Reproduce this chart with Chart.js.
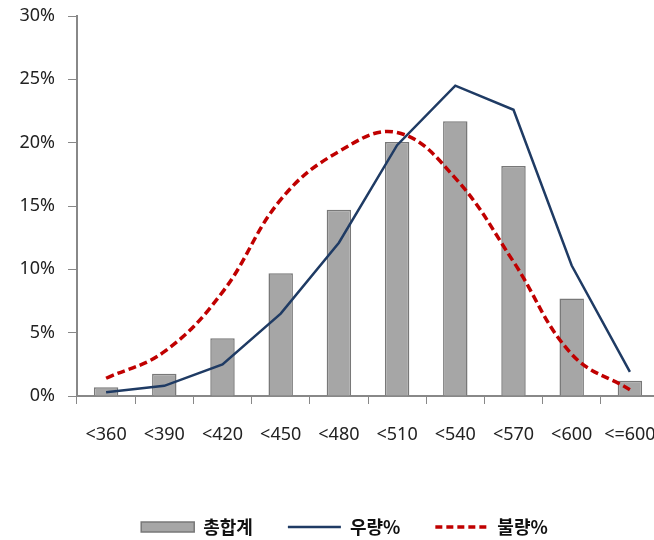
<!DOCTYPE html>
<html><head><meta charset="utf-8">
<script src="https://cdn.jsdelivr.net/npm/chart.js@4"></script>
<style>
html,body{margin:0;padding:0;background:#fff;overflow:hidden;}
#wrap{width:664px;height:540px;}
</style></head>
<body><div id="wrap"><canvas id="c" width="664" height="540"></canvas></div>
<script>
const categories = ['<360','<390','<420','<450','<480','<510','<540','<570','<600','<=600'];
const totalPct = [0.7, 1.75, 4.55, 9.7, 14.7, 20.05, 21.7, 18.15, 7.7, 1.2];
const goodPct  = [0.3, 0.8, 2.5, 6.5, 12.1, 19.8, 24.5, 22.6, 10.3, 1.9];
const badPct   = [1.4, 3.5, 8.2, 15.5, 19.3, 20.8, 17.2, 10.6, 3.3, 0.5];
const yTicks = [0, 5, 10, 15, 20, 25, 30];
const seriesNames = ['총합계', '우량%', '불량%'];

const PLOT_BOTTOM = 396;
const BOTTOM_PAD = -6;
const tickFont = {family: "'Noto Sans', sans-serif", size: 18};

const legendShift = {
  id: 'legendShift',
  afterLayout(chart){ chart.legend.left += 15; chart.legend.right += 15; }
};

new Chart(document.getElementById('c'), {
  plugins: [legendShift],
  data: {
    labels: categories,
    datasets: [
      {type:'line', label: seriesNames[1], data: goodPct, borderColor:'#1F3B64', backgroundColor:'#1F3B64',
       borderWidth: 2.5, pointRadius: 0, tension: 0, order: 1},
      {type:'line', label: seriesNames[2], data: badPct, borderColor:'#C00000', backgroundColor:'#C00000',
       borderWidth: 3.5, borderDash:[8,4], pointRadius: 0, tension: 0.4, order: 0},
      {type:'bar', label: seriesNames[0], data: totalPct, backgroundColor:'#A6A6A6', borderColor:'#787878',
       borderWidth: 1.5, barPercentage: 0.42, categoryPercentage: 1, order: 2}
    ]
  },
  options: {
    responsive: false, animation: false,
    layout: {padding: {left: 0, right: 5, top: 16, bottom: BOTTOM_PAD}},
    plugins: {
      legend: {
        position: 'bottom',
        labels: {
          usePointStyle: true, pointStyleWidth: 53, boxWidth: 53, boxHeight: 10,
          color: '#111', padding: 35,
          font: {family: "'Noto Sans CJK KR', sans-serif", size: 18, weight: 'bold'},
          generateLabels(chart){
            const items = Chart.defaults.plugins.legend.labels.generateLabels(chart);
            items.forEach(it => {
              it.pointStyle = it.text === seriesNames[0] ? 'rect' : 'line';
              if (it.text === seriesNames[2]) { it.lineDash = [7,4]; it.lineWidth = 3.5; }
              if (it.text === seriesNames[1]) { it.lineWidth = 2.5; }
            });
            items.sort((a,b)=>seriesNames.indexOf(a.text)-seriesNames.indexOf(b.text));
            return items;
          }
        }
      },
      tooltip: {enabled: false}
    },
    scales: {
      x: {
        afterFit(s){
          s.paddingLeft = 0; s.paddingRight = 0;
          s.height = s.chart.height - BOTTOM_PAD - s.chart.legend.height - PLOT_BOTTOM;
        },
        grid: {display: true, drawOnChartArea: false, drawTicks: true, tickLength: 8, color: '#888', offset: true},
        border: {color: '#888', width: 2},
        ticks: {font: tickFont, color: '#222', padding: 20, maxRotation: 0, autoSkip: false}
      },
      y: {
        min: 0, max: 30,
        afterBuildTicks(s){ s.ticks = yTicks.map(v=>({value:v})); },
        afterFit(s){ s.width = 77; s.paddingTop = 0; s.paddingBottom = 0; },
        grid: {display: true, drawOnChartArea: false, drawTicks: true, tickLength: 9, color: '#888'},
        border: {color: '#888', width: 2},
        ticks: {font: tickFont, color: '#222', padding: 13, callback: v => v + '%'}
      }
    }
  }
});
</script></body></html>
